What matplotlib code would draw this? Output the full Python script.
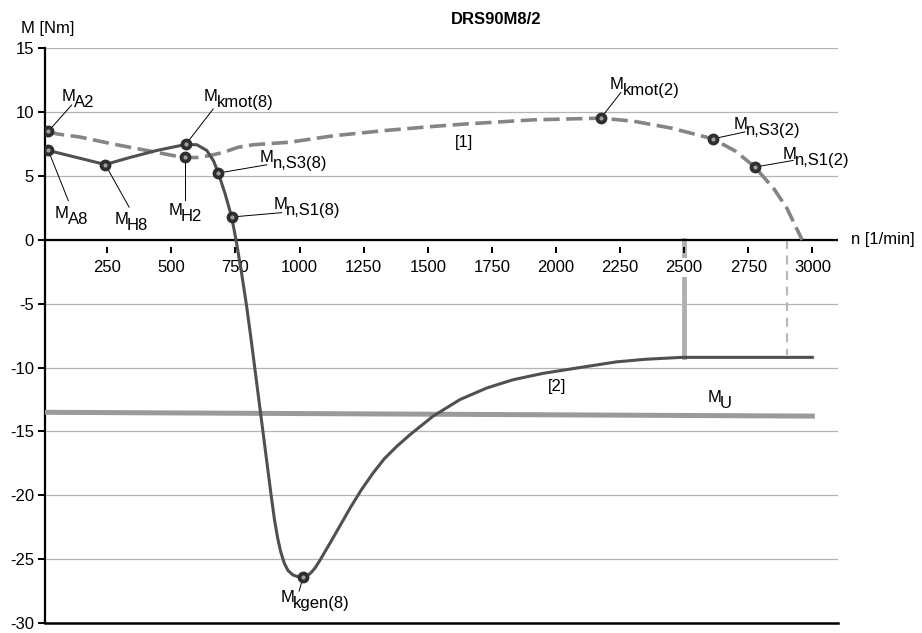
import matplotlib
matplotlib.use('Agg')
import matplotlib.pyplot as plt
import matplotlib.transforms as mtransforms

plt.rcParams['font.family'] = 'Liberation Sans'

# Kennlinie [1] (2-polig), gestrichelt
n_mot2 = [20, 53, 144, 273, 404, 507, 553, 600, 650, 703, 760, 820, 963, 1131, 1327, 1500,
          1652, 1912, 2175, 2300, 2450, 2612, 2700, 2776, 2850, 2900, 2960]
m_mot2 = [8.5, 8.3, 8.05, 7.5, 7.0, 6.6, 6.45, 6.45, 6.6, 6.85, 7.25, 7.45, 7.65, 8.15, 8.55, 8.85,
          9.08, 9.4, 9.53, 9.3, 8.75, 7.91, 6.95, 5.7, 4.0, 2.5, 0.0]

# Kennlinie [2] (8-polig), durchgezogen
n_mot8 = [20, 242, 338, 443, 556, 599, 638, 664, 683, 709, 735, 752, 773, 792, 809, 825, 841,
          857, 873, 889, 902, 914, 926, 940, 955, 975, 995, 1014, 1030, 1045, 1060, 1079, 1120,
          1160, 1200, 1240, 1285, 1330, 1380, 1431, 1521, 1626, 1730, 1833, 1950, 2067, 2237,
          2350, 2490, 3000]
m_mot8 = [7.0, 5.9, 6.45, 7.0, 7.47, 7.45, 7.0, 6.2, 5.23, 3.64, 1.79, 0.0, -2.5, -5.0, -7.5, -10.0, -12.5,
          -15.0, -17.5, -20.0, -21.9, -23.3, -24.4, -25.3, -25.9, -26.25, -26.38, -26.4, -26.3, -26.05, -25.7, -25.1, -23.7,
          -22.3, -20.9, -19.6, -18.3, -17.15, -16.15, -15.25, -13.8, -12.5, -11.6, -10.95, -10.45, -10.08, -9.55,
          -9.35, -9.2, -9.2]

# Bremsmoment M_U
n_mu = [0, 3000]
m_mu = [-13.5, -13.8]

# Grenzdrehzahlen
n_max8 = 2500
m_max8 = -9.2
n_lim = 2902
m_lim = -9.0

# Kennpunkte
mark_sub = ['A2', 'A8', 'H8', 'H2', 'kmot(8)', 'n,S3(8)', 'n,S1(8)', 'kgen(8)',
            'kmot(2)', 'n,S3(2)', 'n,S1(2)']
mark_n = [20, 20, 242, 553, 556, 683, 735, 1014, 2175, 2612, 2776]
mark_m = [8.5, 7.0, 5.9, 6.45, 7.47, 5.23, 1.79, -26.4, 9.53, 7.91, 5.7]
label_n = [72, 46, 277, 488, 627, 846, 897, 926, 2211, 2694, 2884]
label_m = [10.9, 1.7, 1.22, 1.93, 10.9, 6.09, 2.41, -28.34, 11.84, 8.7, 6.35]
leader_n = [111, 98, 335, 553, 663, 872, 930, 998, 2253, 2737, 2925]
leader_m = [10.56, 3.07, 2.56, 3.13, 10.25, 5.88, 2.13, -27.5, 11.54, 8.45, 6.22]

n_ticks = list(range(250, 3001, 250))
m_ticks = list(range(-30, 16, 5))

fig = plt.figure(figsize=(9.22, 6.33), dpi=100)
ax = fig.add_axes([45 / 922, 1 - 623 / 633, 793 / 922, 574.7 / 633])
ax.set_xlim(7, 3100)
ax.set_ylim(-30, 15)

for s in ['top', 'right']:
    ax.spines[s].set_visible(False)
ax.spines['left'].set_linewidth(1.6)
# Teilstriche der n-Achse knapp unter der Nulllinie
ax.spines['bottom'].set_position(('data', -0.55))
ax.spines['bottom'].set_visible(False)

ax.set_xticks(n_ticks, labels=[str(t) for t in n_ticks])
ax.set_yticks(m_ticks, labels=[str(t) for t in m_ticks])
ax.tick_params(axis='x', direction='out', length=4.5, width=1.4, pad=5, labelsize=12)
ax.tick_params(axis='y', direction='out', length=5, width=1.4, pad=3, labelsize=12)
ax.yaxis.grid(True, color='#b4b4b4', lw=0.9)
for lbl in ax.get_xticklabels():
    if lbl.get_text() == '2500':
        lbl.set_bbox(dict(facecolor='white', edgecolor='none', pad=1.5))

ax.axhline(0, color='k', lw=1.6, zorder=2.6)
ax.axhline(-30, color='k', lw=1.8, clip_on=False)

ax.plot([n_max8, n_max8], [0, m_max8], color='#b0b0b0', lw=3.5, zorder=1)
ax.plot([n_lim, n_lim], [0, m_lim], color='#b8b8b8', lw=1.6, dashes=(4, 3), zorder=1)

ax.plot(n_mu, m_mu, color='#9a9a9a', lw=3.6, zorder=3)
ax.plot(n_mot2, m_mot2, color='#858585', lw=2.6, dashes=(4.5, 1.8), zorder=3)
ax.plot(n_mot8, m_mot8, color='#505050', lw=2.2, zorder=4, solid_joinstyle='round')

for mn, mm, ln, lm in zip(mark_n, mark_m, leader_n, leader_m):
    ax.plot([mn, ln], [mm, lm], color='k', lw=0.7, zorder=5)
ax.plot(mark_n, mark_m, 'o', ms=7.5, color='#2e2e2e', zorder=6)
ax.plot(mark_n, mark_m, 'o', ms=2, color='#a0a0a0', zorder=7)

sub_tr = mtransforms.offset_copy(ax.transData, fig=fig, x=9.0, y=-4.3, units='points')


def m_label(x, y, sub):
    ax.text(x, y, 'M', fontsize=12, va='baseline', ha='left')
    ax.text(x, y, sub, fontsize=12, va='baseline', ha='left', transform=sub_tr)


for sub, x, y in zip(mark_sub, label_n, label_m):
    m_label(x, y, sub)
m_label(2590, -12.7, 'U')

ax.text(1643, 7.6, '[1]', fontsize=12, ha='center', va='center')
ax.text(2006, -11.52, '[2]', fontsize=12, ha='center', va='center')

ax.annotate('n [1/min]', xy=(1, 0), xycoords=('axes fraction', 'data'),
            xytext=(9, 0), textcoords='offset points', fontsize=12, va='center', ha='left')
fig.text(21 / 922, 1 - 29 / 633, 'M [Nm]', fontsize=12, ha='left', va='center')
fig.text(496 / 922, 1 - 20 / 633, 'DRS90M8/2', fontsize=12, fontweight='bold', ha='center', va='center')

fig.savefig('out.png', dpi=100)
